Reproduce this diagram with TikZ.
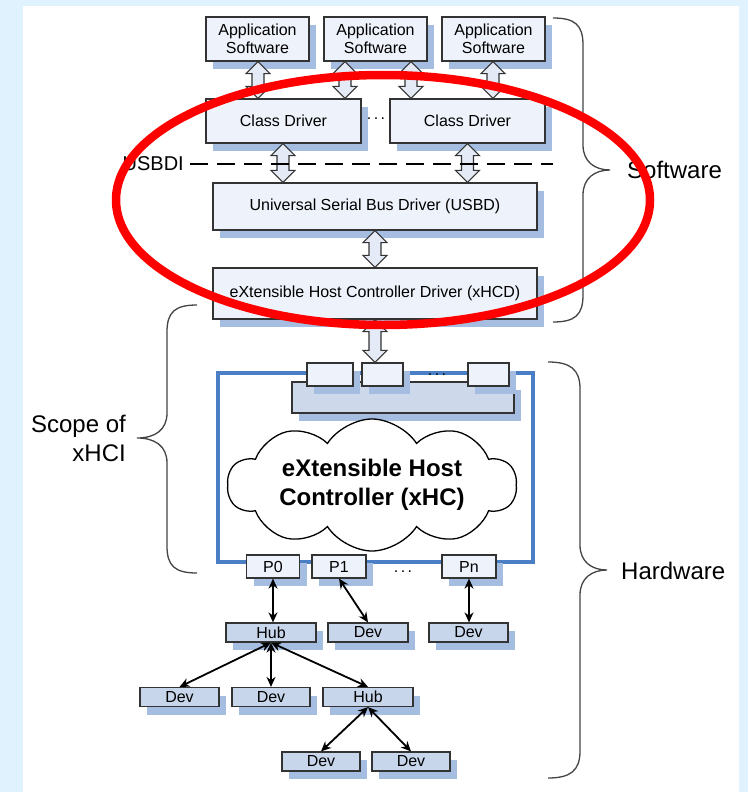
\documentclass[tikz,border=0pt]{standalone}
\usepackage{fontspec}
\setmainfont{Liberation Sans}
\usetikzlibrary{shapes.symbols,shadows,arrows.meta,calc}
\definecolor{bgblue}{HTML}{E0F2FD}
\definecolor{boxfill}{HTML}{EEF2FA}
\definecolor{treefill}{HTML}{C8D6EB}
\definecolor{barfill}{HTML}{CDD9EA}
\definecolor{shadowc}{HTML}{A4BDE1}
\definecolor{framec}{HTML}{4A7EC5}
\definecolor{arrowfill}{HTML}{E4EBF6}
\definecolor{edgec}{HTML}{333333}
\definecolor{bracec}{HTML}{444444}
\tikzset{
  sbox/.style={draw=edgec, line width=1.2pt, fill=boxfill,
    drop shadow={shadow xshift=7pt, shadow yshift=-8pt, fill=shadowc, opacity=1},
    inner sep=0pt, align=center, font=\fontsize{16}{18}\selectfont},
  tbox/.style={sbox, fill=treefill, minimum height=19pt},
  pbox/.style={sbox, minimum height=23pt, minimum width=53pt},
  barrow/.style={draw=edgec, line width=1.1pt, fill=arrowfill, line join=miter},
  tarrow/.style={{Stealth[length=10pt,width=9pt]}-{Stealth[length=10pt,width=9pt]}, line width=1.8pt},
  bracel/.style={draw=bracec, line width=1.3pt},
  biglabel/.style={font=\fontsize{24}{29}\selectfont, inner sep=0pt},
  dotsl/.style={font=\fontsize{16}{18}\selectfont, inner sep=0pt}
}
\newcommand\dotrow{.\kern2.5pt.\kern2.5pt.}
\newcommand\blockarrow[3]{%
  \path (#1,0 |- #2.south) coordinate (ba-top) (#1,0 |- #3.north) coordinate (ba-bot);
  \draw[barrow] let \p1=(ba-top), \p2=(ba-bot) in
    (\x1,\y1) -- ({\x1+12pt},{\y1-12pt}) -- ({\x1+6pt},{\y1-12pt}) -- ({\x1+6pt},{\y2+12pt})
    -- ({\x1+12pt},{\y2+12pt}) -- (\x1,\y2) -- ({\x1-12pt},{\y2+12pt}) -- ({\x1-6pt},{\y2+12pt})
    -- ({\x1-6pt},{\y1-12pt}) -- ({\x1-12pt},{\y1-12pt}) -- cycle;
}
\begin{document}
\begin{tikzpicture}[x=1pt,y=-1pt]
\useasboundingbox (0,0) rectangle (748,792);
\fill[bgblue] (0,0) rectangle (748,792);
\fill[white] (23,6) rectangle (739,792);

% software stack
\node[sbox, minimum width=103pt, minimum height=44pt] (app1) at (257.5,39) {Application\\Software};
\node[sbox, minimum width=103pt, minimum height=44pt] (app2) at (375.5,39) {Application\\Software};
\node[sbox, minimum width=103pt, minimum height=44pt] (app3) at (493.5,39) {Application\\Software};
\node[sbox, minimum width=155pt, minimum height=44pt] (cd1) at (283.5,121) {Class Driver};
\node[sbox, minimum width=155pt, minimum height=44pt] (cd2) at (467.5,121) {Class Driver};
\node[dotsl] (cddots) at (376,119) {\dotrow};
\node[sbox, minimum width=324pt, minimum height=47pt] (usbd) at (375,206.5) {Universal Serial Bus Driver (USBD)};
\node[sbox, minimum width=324pt, minimum height=51pt] (xhcd) at (375,293.5) {eXtensible Host Controller Driver (xHCD)};

% hardware
\draw[framec, line width=3.5pt] (218,373) rectangle (533,562);
\node[sbox, fill=barfill, minimum width=222pt, minimum height=31pt] (bar) at (403,397.5) {};
\node[sbox, minimum width=46pt, minimum height=23pt] (r1) at (330,374.5) {};
\node[sbox, minimum width=41pt, minimum height=23pt] (r2) at (382.5,374.5) {};
\node[sbox, minimum width=41pt, minimum height=23pt] (r3) at (488.5,374.5) {};
\node[dotsl] (rdots) at (437,375) {\dotrow};
\node[cloud, cloud puffs=10, cloud puff arc=115, cloud ignores aspect, draw=black, line width=1.3pt, fill=white,
  minimum width=289pt, minimum height=132pt, inner sep=0pt, align=center,
  font=\bfseries\fontsize{24}{29}\selectfont] (xhc) at (372,485) {eXtensible Host\\Controller (xHC)};

\node[pbox] (p0) at (273,566.5) {P0};
\node[pbox, minimum width=54pt] (p1) at (339,566.5) {P1};
\node[pbox, minimum width=54pt] (pn) at (469,566.5) {Pn};
\node[dotsl] (pdots) at (403,572) {\dotrow};

\node[tbox, minimum width=90pt] (hub1) at (271,632.5) {Hub};
\node[tbox, minimum width=80pt] (deva) at (368,632.5) {Dev};
\node[tbox, minimum width=79pt] (devb) at (468.5,632.5) {Dev};
\node[tbox, minimum width=79pt] (devc) at (179.5,697) {Dev};
\node[tbox, minimum width=78pt] (devd) at (271,697) {Dev};
\node[tbox, minimum width=90pt] (hub2) at (368,697) {Hub};
\node[tbox, minimum width=78pt] (deve) at (321,761.5) {Dev};
\node[tbox, minimum width=78pt] (devf) at (411,761.5) {Dev};

% block arrows
\blockarrow{258}{app1}{cd1}
\blockarrow{345}{app2}{cd1}
\blockarrow{411}{app2}{cd2}
\blockarrow{493}{app3}{cd2}
\blockarrow{283}{cd1}{usbd}
\blockarrow{467.5}{cd2}{usbd}
\blockarrow{375}{usbd}{xhcd}
\blockarrow{375}{xhcd}{r2}

% USBDI line
\node[font=\fontsize{20}{24}\selectfont, inner sep=0pt, anchor=east] (usbdi) at (184,164) {USBDI};
\coordinate (dashend) at (553,164);
\draw[line width=2pt, dash pattern=on 18pt off 9pt] ([xshift=6pt]usbdi.east) -- (dashend);

% tree arrows
\draw[tarrow] (p0.south) -- (p0.south |- hub1.north);
\draw[tarrow] (p1.south) -- (deva.north);
\draw[tarrow] (pn.south) -- (pn.south |- devb.north);
\draw[tarrow] (hub1.south) -- (devc.north);
\draw[tarrow] (hub1.south) -- (devd.north);
\draw[tarrow] (hub1.south) -- (hub2.north);
\draw[tarrow] (hub2.south) -- (deve.north);
\draw[tarrow] (hub2.south) -- (devf.north);

% braces
\draw[bracel] (553,18) .. controls (575,18) and (583,25) .. (583,45) -- (583,145)
  .. controls (583,162) and (595,170) .. (610,170)
  .. controls (595,170) and (583,178) .. (583,195) -- (583,295)
  .. controls (583,315) and (575,322) .. (553,322);
\draw[bracel] (548,362) .. controls (570,362) and (580,369) .. (580,389) -- (580,545)
  .. controls (580,562) and (592,570) .. (607,570)
  .. controls (592,570) and (580,578) .. (580,595) -- (580,751)
  .. controls (580,771) and (570,778) .. (548,778);
\draw[bracel] (197,305) .. controls (175,305) and (167,312) .. (167,332) -- (167,413)
  .. controls (167,430) and (155,438) .. (137,438)
  .. controls (155,438) and (167,446) .. (167,463) -- (167,546)
  .. controls (167,566) and (175,573) .. (197,573);
\node[biglabel, anchor=west] (sw) at (627,170) {Software};
\node[biglabel, anchor=west] (hw) at (621,571) {Hardware};
\node[biglabel, anchor=east, align=right] (scope) at (126,438) {Scope of\\xHCI};

% red ellipse
\draw[red, line width=8.5pt] (383,200) ellipse [x radius=267pt, y radius=125pt];
\end{tikzpicture}
\end{document}
